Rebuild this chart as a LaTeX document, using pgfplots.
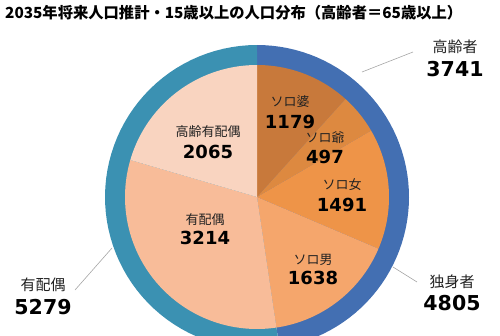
\documentclass[border=0pt]{standalone}
\usepackage{pgfplots}
\usepackage{pgfplotstable}
\pgfplotsset{compat=1.18}
\usepackage{fontspec}
\setmainfont{Noto Sans CJK JP}
\newfontfamily\numfont{DejaVu Sans}
\definecolor{c0}{HTML}{C8793B}
\definecolor{c1}{HTML}{DD8940}
\definecolor{c2}{HTML}{EE9448}
\definecolor{c3}{HTML}{F5A66C}
\definecolor{c4}{HTML}{F8BC99}
\definecolor{c5}{HTML}{F9D4C0}
\definecolor{o0}{HTML}{436FB2}
\definecolor{o1}{HTML}{3B91B2}
\definecolor{lbl}{HTML}{222222}
\pgfplotstableread{
label value
ソロ婆 1179
ソロ爺 497
ソロ女 1491
ソロ男 1638
有配偶 3214
高齢有配偶 2065
}\inner
\pgfplotstableread{
label value
独身者 4805
有配偶 5279
}\outer
\newcommand{\drawpie}[3]{% table, radius, colour prefix
  \pgfplotstablegetrowsof{#1}%
  \pgfmathtruncatemacro{\N}{\pgfplotsretval-1}%
  \def\tot{0}%
  \pgfplotsforeachungrouped \i in {0,...,\N}{%
    \pgfplotstablegetelem{\i}{value}\of#1\let\v\pgfplotsretval
    \pgfmathsetmacro{\tnew}{\tot+\v}\let\tot\tnew}%
  \def\cum{0}%
  \pgfplotsforeachungrouped \i in {0,...,\N}{%
    \pgfplotstablegetelem{\i}{value}\of#1\let\v\pgfplotsretval
    \pgfmathsetmacro{\a}{\cum/\tot*360}%
    \pgfmathsetmacro{\cnew}{\cum+\v}\let\cum\cnew
    \pgfmathsetmacro{\b}{\cum/\tot*360}%
    \edef\temp{\noexpand\addplot[fill=#3\i, draw=none, domain=\a:\b, samples=60, variable=\noexpand\t]
      ({257+#2*sin(\noexpand\t)},{138+#2*cos(\noexpand\t)}) -- (axis cs:257,138) -- cycle;}%
    \temp
  }%
}
\begin{document}
\begin{tikzpicture}
\begin{axis}[name=ax,width=500pt,height=335pt,scale only axis,
  xmin=0,xmax=500,ymin=0,ymax=335,hide axis,clip=true]
\drawpie{\outer}{152}{o}
\drawpie{\inner}{132}{c}
% leader lines
\draw[gray!70,line width=0.6pt] (axis cs:362,263) -- (axis cs:413,283);
\draw[gray!70,line width=0.6pt] (axis cs:393,68) -- (axis cs:417,53);
\draw[gray!70,line width=0.6pt] (axis cs:112,87) -- (axis cs:75,45);
% title
\node[anchor=west,inner sep=0pt] at (axis cs:5,322)
  {\resizebox{457pt}{!}{\fontsize{15.5pt}{16pt}\selectfont\bfseries 2035年将来人口推計・15歳以上の人口分布（高齢者＝65歳以上）}};
\tikzset{lab/.style={inner sep=0pt,text=lbl,font=\fontsize{13pt}{14pt}\selectfont},
         num/.style={inner sep=0pt,text=black,font=\numfont\bfseries\fontsize{18pt}{19pt}\selectfont},
         olab/.style={inner sep=0pt,text=lbl,font=\fontsize{15pt}{16pt}\selectfont},
         onum/.style={inner sep=0pt,text=black,font=\numfont\bfseries\fontsize{20.5pt}{21pt}\selectfont}}
% inner labels
\node[lab] at (axis cs:290,233) {ソロ婆};
\node[num] at (axis cs:290,213) {1179};
\node[lab] at (axis cs:325,197) {ソロ爺};
\node[num] at (axis cs:325,178) {497};
\node[lab] at (axis cs:342,150) {ソロ女};
\node[num] at (axis cs:342,130) {1491};
\node[lab] at (axis cs:313,75) {ソロ男};
\node[num] at (axis cs:313,57) {1638};
\node[lab] at (axis cs:205,115) {有配偶};
\node[num] at (axis cs:205,97) {3214};
\node[lab] at (axis cs:208,203) {高齢有配偶};
\node[num] at (axis cs:208,183) {2065};
% outer labels
\node[olab] at (axis cs:455,288) {高齢者};
\node[onum] at (axis cs:455,266) {3741};
\node[olab] at (axis cs:452,53) {独身者};
\node[onum] at (axis cs:452,32) {4805};
\node[olab] at (axis cs:43,50) {有配偶};
\node[onum] at (axis cs:43,28) {5279};
\end{axis}
\pgfresetboundingbox
\useasboundingbox (ax.south west) rectangle (ax.north east);
\end{tikzpicture}
\end{document}
